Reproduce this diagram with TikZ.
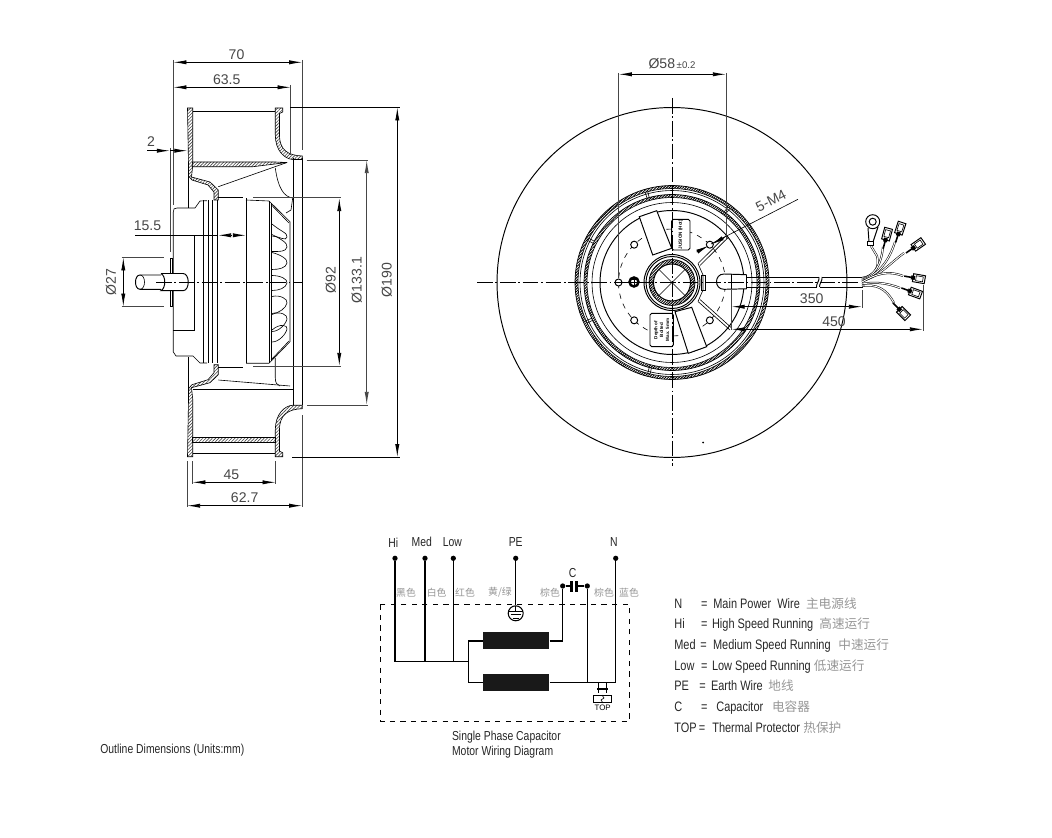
\documentclass[tikz,border=0pt]{standalone}
\usepackage{fontspec}
\setmainfont{Liberation Sans}
\newfontfamily\narrowfont[FakeStretch=0.8]{Liberation Sans}
\newfontfamily\cjkfont{Noto Sans CJK SC}
\usetikzlibrary{arrows.meta, patterns.meta, bending}
\tikzset{>={Latex[length=7.5pt,width=2.4pt]}}
\definecolor{mygray1}{RGB}{150, 150, 150}
\definecolor{mygray2}{RGB}{70, 70, 70}
\begin{document}
\begin{tikzpicture}[
    x = 0.02cm, y = -0.02cm,
    d0/.style = {line width = 0.55pt, draw = black},
    d1/.style = {line width = 0.35pt, draw = black},
    dimline/.style = {<->, line width = 0.5pt, draw = black},
    dimhalf/.style = {->, line width = 0.5pt, draw = black},
    extline/.style = {line width = 0.4pt, draw = mygray2},
    axis/.style = {line width = 0.4pt, draw = black, dash pattern = on 9pt off 1.5pt on 1pt off 1.5pt},
    hatched/.style = {draw = black, line width = 0.35pt, pattern = {Lines[angle=45, distance=1.3pt, line width=0.35pt]}, pattern color = mygray2},
    ringed/.style = {draw = black, line width = 0.4pt, pattern = {Lines[angle=45, distance=1.1pt, line width=0.55pt]}, pattern color = black},
    dimtext/.style = {inner sep = 0pt, text = mygray2, font = \fontsize{8pt}{8pt}\selectfont},
    wire/.style = {line width = 0.85pt, draw = black},
    dot/.style = {circle, fill = black, inner sep = 0pt, minimum size = 3pt},
    coil/.style = {rectangle, fill = black!90, inner sep = 0pt, minimum width = 1.32cm, minimum height = 0.34cm},
    wiretext/.style = {inner sep = 0pt, text = black!85, font = \narrowfont\fontsize{7.4pt}{7.4pt}\selectfont},
    keytext/.style = {inner sep = 0pt, text = black!85, anchor = base west, font = \narrowfont\fontsize{7.8pt}{7.8pt}\selectfont},
    cjktext/.style = {inner sep = 0pt, text = mygray1, font = \cjkfont\fontsize{5.6pt}{5.6pt}\selectfont},
    lead/.style = {double = white, double distance = 0.55pt, line width = 0.3pt},
]
\useasboundingbox (0,0) rectangle (1052,838);

% side view, shrouds (top and mirrored)
\foreach \mys in {1,-1} {
\begin{scope}[shift = {(0,{(1-\mys)/2*564.7})}, yscale = \mys]
    \draw[hatched] (187.5,108) -- (192.7,108) -- (192.7,166) -- (191.5,177) -- (210,182) -- (218.3,190) -- (218.3,200) -- (214,200) -- (214,192) -- (208,185) -- (192,180) -- (188.5,176) -- (188.5,165) -- cycle;
    \draw[hatched] (275.3,108) -- (282.7,108) -- (282.7,112) -- (279.5,113.5) -- (279.5,135) .. controls (279.5,150) and (288,155.5) .. (302.3,156) -- (302.3,159.5) -- (293,159.5) .. controls (284,159) and (275.3,150) .. (275.3,135) -- cycle;
    \draw[d1] (188,176) -- (188,208);
    \draw[d1] (192.7,111.7) -- (275.3,111.7);
\end{scope}
}
\draw[hatched] (192.5,162) -- (275,162) -- (287,162.5) -- (253,166.7) -- (192,166.7) -- cycle;
\draw[d1] (287,162.5) -- (218.3,186.7);
\draw[d1] (275.3,168) .. controls (278,188) and (284,197) .. (292.7,198) -- (291,210) -- (286,213);
\draw[hatched] (192,437.3) rectangle (275.3,442.7);
\draw[d1] (218.3,380) -- (290,386);
\draw[d1] (193,389.3) -- (293,389.3);
\draw[d1] (275.3,358) -- (275.3,378) .. controls (275.3,383) and (277,385) .. (280,386);
\draw[d1] (293,158) -- (293,405);

% side view, motor
\draw[d1] (170,258.3) rectangle (172.7,306.7);
\draw[d1] (173.3,212) .. controls (173.3,209) and (174,208) .. (177,208) -- (195,208) -- (200,201) -- (207,200.7);
\draw[d1] (173.3,212) -- (173.3,352) -- (176,356) -- (193,356) -- (200,363) -- (207,363);
\draw[d1] (173.3,330) -- (194,330) -- (194,235);
\foreach \myx in {203.3,208.3,212.7,217.7} {
    \draw[d1] (\myx,200) -- (\myx,363);
}
\draw[d1] (246,198.3) -- (246,363.3);
\draw[d0] (218,197.5) -- (243,197.5);
\draw[d0] (218,367) -- (243,367);
\draw[d1] (246,200) -- (269,201) -- (290,221.7) -- (290,341.7) -- (269,363.3) -- (246,363.3);
\draw[d1] (269,201) -- (269,363.3);
\draw[d1] (271.7,203) -- (271.7,361);
\draw[d1] (271,204.5) -- (289,223);
\draw[d1] (271,360) -- (289,341);
\foreach \myc/\myh/\mys in {283/7.5/0, 261/8.5/2, 243/8.5/4, 230/6/7, 305/8.5/-2, 323/8.5/-4, 336/6/-7} {
    \draw[d1] (272,\myc-\myh) .. controls (280,\myc-\myh+\mys) and (288,\myc+\mys-4) .. (287,\myc+\mys) .. controls (286,\myc+\mys+5) and (279,\myc+\myh) .. (272,\myc+\myh);
}

% side view, shaft
\draw[d0, fill = white] (161,275) -- (140,275) .. controls (134,275) and (134,289.3) .. (140,289.3) -- (161,289.3);
\draw[d1] (140,275) .. controls (146,275) and (146,289.3) .. (140,289.3);
\draw[d0, fill = white] (161,273.5) -- (183,273.5) .. controls (190,273.5) and (190,290.7) .. (183,290.7) -- (161,290.7) .. controls (166,288) and (166,276) .. (161,273.5);
\draw[axis] (156,282.5) -- (302.3,282.5);

% side view, dimensions
\draw[extline] (173.3,60) -- (173.3,205);
\draw[extline] (302.3,60) -- (302.3,150);
\draw[d1] (302.3,158) -- (302.3,405);
\draw[extline] (302.3,415) -- (302.3,507);
\draw[extline] (290.7,85) -- (290.7,155);
\draw[dimline] (173.3,62.3) -- node[dimtext, above = 1.5pt, pos = 0.49] (dimSeventy) {70} (302.3,62.3);
\draw[dimline] (173.3,87.3) -- node[dimtext, above = 1.5pt, pos = 0.455] (dimSixtyThree) {63.5} (290.7,87.3);
\draw[extline] (170,148) -- (170,252);
\draw[d1] (147,150.7) -- (157,150.7);
\draw[dimhalf] (157,150.7) -- (170,150.7);
\draw[dimhalf] (170,150.7) -- (187.5,150.7);
\node[dimtext] (dimTwo) at (151,141.5) {2};
\draw[d0] (135,235.3) -- (218,235.3);
\draw[dimhalf] (232,235.3) -- (218,235.3);
\draw[dimhalf] (233,235.3) -- (246,235.3);
\node[dimtext] (dimFifteen) at (147.5,225.5) {15.5};
\draw[extline] (121.7,257.3) -- (164,257.3);
\draw[extline] (121.7,306.7) -- (164,306.7);
\draw[dimline] (123.3,257.3) -- (123.3,306.7);
\node[dimtext, rotate = 90] (dimShaft) at (111,282) {Ø27};
\draw[extline] (253,197.7) -- (340.7,197.7);
\draw[extline] (253,366) -- (340.7,366);
\draw[dimline] (339.3,198) -- (339.3,366);
\node[dimtext, rotate = 90] (dimNinetyTwo) at (330.7,280) {Ø92};
\draw[extline] (306.7,160) -- (368,160);
\draw[extline] (307,405) -- (368,405);
\draw[dimline, draw = mygray2] (366.7,160) -- (366.7,405);
\node[dimtext, rotate = 90] (dimInlet) at (356.7,280) {Ø133.1};
\draw[d0] (290,107.3) -- (400,107.3);
\draw[d0] (292,457.3) -- (400,457.3);
\draw[dimline] (397.3,107.3) -- (397.3,457.3);
\node[dimtext, rotate = 90] (dimOuter) at (386.7,280) {Ø190};
\draw[extline] (192.3,461) -- (192.3,484);
\draw[extline] (275.7,461) -- (275.7,484);
\draw[extline] (187,461) -- (187,507);
\draw[dimline] (192.3,482.3) -- node[dimtext, above = 1.5pt, pos = 0.47] (dimFortyFive) {45} (275.7,482.3);
\draw[dimline] (187,505.7) -- node[dimtext, above = 1.5pt] (dimSixtyTwo) {62.7} (302.3,505.7);

% front view, discs
\coordinate (fc) at (672,282.5);
\draw[d0] (fc) circle [radius = 3.5cm];
\draw[ringed] (fc) circle [radius = 1.94cm];
\draw[d1, fill = white] (fc) circle [radius = 1.88cm];
\draw[d1] (fc) circle [radius = 1.84cm];
\draw[ringed] (fc) circle [radius = 1.76cm];
\draw[d1, fill = white] (fc) circle [radius = 1.70cm];
\draw[d1] (fc) circle [radius = 1.60cm];
\draw[d0] (fc) circle [radius = 1.44cm];
\foreach \mya in {52,105,152,204,255} {
    \draw[d1] (fc) ++(\mya:1.76cm) -- ++(\mya:0.12cm);
    \draw[d1] (fc) ++(\mya+1.5:1.76cm) -- ++(\mya+1.5:0.12cm);
}
\draw[d1, dashed] (fc) circle [radius = 1.07cm];
\foreach \mya in {45,135,180,225,315} {
    \draw[d0, fill = white] (fc) ++(\mya:1.07cm) circle [radius = 0.07cm];
}

% front view, plate
\draw[d0, fill = white] (639.3,216.7) -- (656.7,210.7) -- (671.7,248.3) -- (652.7,255) -- cycle;
\draw[d0, fill = white] (675,311.7) -- (691.7,307.3) -- (706.7,346.7) -- (688.3,353.3) -- cycle;
\draw[d0, fill = white, rounded corners = 1pt] (671.7,219.3) rectangle (690,250);
\draw[d0, fill = white, rounded corners = 1pt] (650,313.3) rectangle (673.3,346.7);
\node[rotate = 90, inner sep = 0pt, font = \fontsize{2.6pt}{3pt}\selectfont\bfseries] (plateTop) at (680.8,234.6) {JUSION (Hot)};
\node[rotate = 90, inner sep = 0pt, align = center, font = \fontsize{2.6pt}{3.4pt}\selectfont\bfseries] (plateBottom) at (661.6,330) {Depth of\\Bolted\\Max. 5mm};
\draw[d1] (698,263.5) -- (726.7,235);
\draw[d1] (700,265.5) -- (728.7,237);
\draw[d1] (698,301.5) -- (730,330);
\draw[d1] (700,299.5) -- (731.7,328);
\draw[d1] (698,263.5) -- (703,275) -- (703,290) -- (698,301.5);
\draw[d1] (701.7,275) rectangle (705,290);
\draw[d0, fill = white] (fc) circle [radius = 0.56cm];
\draw[d0] (fc) circle [radius = 0.52cm];
\draw[ringed] (fc) circle [radius = 0.46cm];
\draw[d0, fill = white] (fc) circle [radius = 0.37cm];
\foreach \mya in {45,135} {
    \draw[d1] (fc) ++(\mya:0.37cm) -- ++(\mya+180:0.74cm);
}
\draw[line width = 1.4pt] (634,282) circle [radius = 0.09cm];
\draw[d1] (634,277) -- (634,287) (629.5,282) -- (638.5,282) (631,279) -- (637,279) (631,285) -- (637,285);

% front view, cable and leads
\draw[d0, fill = white] (746.7,274.7) -- (724,274) .. controls (714,274) and (714,289.3) .. (724,289.3) -- (746.7,288.8);
\draw[d1] (731.7,274) -- (731.7,289);
\draw[d1] (746.7,274.7) -- (746.7,288.8);
\draw[d0] (746.7,277) -- (819,277) (746.7,287) -- (816.5,287);
\draw[d0] (822,277) -- (862,277) -- (862,287) -- (819.5,287);
\draw[d0] (819,277) .. controls (820,280) and (816,284) .. (816.5,287);
\draw[d0] (822,277) .. controls (823,280) and (819,284) .. (819.5,287);
\draw[axis] (477,282.5) -- (860,282.5);
\draw[axis] (672,98) -- (672,466);
\draw[lead] (862,278) .. controls (874,276) and (880,268) .. (877,256) -- (871,246);
\draw[lead] (862,279) .. controls (874,276) and (881,266) .. (883,247);
\draw[lead] (862,280) .. controls (876,276) and (888,264) .. (895,242);
\draw[lead] (862,281) .. controls (880,276) and (889,264) .. (904,253);
\draw[lead] (862,282) .. controls (876,274) and (888,270) .. (903,276);
\draw[lead] (862,284) .. controls (872,282) and (885,282) .. (900,288);
\draw[lead] (862,286) .. controls (876,284) and (886,288) .. (894,303);
\draw[d0] (872.7,221.7) circle [radius = 0.07cm];
\draw[d0] (872.7,221.7) circle [radius = 0.14cm];
\draw[d0] (868,228) -- (869,242) -- (873,242) -- (878,227);
\draw[d0, fill = white] (867,241) rectangle (873,245);
\foreach \myx/\myy/\mya in {886/238/75, 899/232/72, 915/246.7/35, 915/278/-10, 911.7/291.7/-20, 900.7/310.7/-45} {
\begin{scope}[shift = {(\myx,\myy)}, rotate = \mya]
    \draw[line width = 0.9pt] (-11,0) -- (-3,0);
    \draw[d0, fill = white] (-2,-4) rectangle (10,4);
    \draw[d1] (1,-2.5) rectangle (8,2.5);
    \fill (-4,-2) rectangle (0,2);
\end{scope}
}

% front view, dimensions
\draw[extline] (618.7,73) -- (618.7,278);
\draw[extline] (726,73) -- (726,240);
\draw[dimline] (618.7,74.3) -- (726,74.3);
\node[dimtext, inner sep = 0pt] (dimBolt) at (672,64) {Ø58\fontsize{5.5pt}{5.5pt}\selectfont\,±0.2};
\draw[d1] (798,199.3) -- (711,244);
\draw[dimhalf] (724,237.5) -- (711,244.5);
\draw[dimhalf] (696.7,252) -- (709,245.5);
\node[dimtext, rotate = 27] (dimThread) at (771,201) {5-M4};
\draw[extline] (731.5,290) -- (731.5,330);
\draw[extline] (862,290) -- (862,308);
\draw[extline] (923,285) -- (923,331);
\draw[dimline] (731.5,306.7) -- (862,306.7);
\draw[dimline] (731.5,329.3) -- (923,329.3);
\node[dimtext] (dimThreeFifty) at (811.7,299) {350};
\node[dimtext] (dimFourFifty) at (834,321.7) {450};
\fill (703,442.5) circle [radius = 0.02cm];

% wiring diagram
\draw[d0, dashed] (380.7,604.3) rectangle (629.3,721.7);
\node[dot] (hi) at (395,558.3) {};
\node[dot] (med) at (425,558.3) {};
\node[dot] (low) at (453.3,558.3) {};
\node[dot] (pe) at (515.7,558.3) {};
\node[dot] (n) at (615.7,558.3) {};
\node[dot] (capl) at (562.7,586) {};
\node[dot] (capr) at (587.3,586) {};
\node[coil] (coila) at (516.3,640.8) {};
\node[coil] (coilb) at (516.3,682.7) {};
\node[wiretext] (hilabel) at (393.3,542.3) {Hi};
\node[wiretext] (medlabel) at (421.7,542.3) {Med};
\node[wiretext] (lowlabel) at (452.3,542.3) {Low};
\node[wiretext] (pelabel) at (515.7,542.3) {PE};
\node[wiretext] (nlabel) at (614,542.3) {N};
\node[wiretext] (clabel) at (572.7,573.3) {C};
\coordinate (busa) at (395,661.7);
\coordinate (busb) at (425,661.7);
\coordinate (busc) at (453.3,661.7);
\coordinate (busd) at (468.3,661.7);
\coordinate (coilain) at (468.3,640.8);
\coordinate (coilbin) at (468.3,682.7);
\coordinate (coilaout) at (562.7,640.8);
\coordinate (coilbout) at (587.3,682.7);
\coordinate (nret) at (615.7,682.7);
\coordinate (platea) at (570.7,586);
\coordinate (plateb) at (577.3,586);
\draw[wire] (hi) -- (busa) -- (busd);
\draw[wire] (med) -- (busb);
\draw[wire] (low) -- (busc);
\draw[wire] (coilain) -- (coilbin);
\draw[wire] (coilain) -- (coila);
\draw[wire] (coilbin) -- (coilb);
\draw[wire] (coila) -- (coilaout) -- (capl);
\draw[wire] (coilb) -- (nret) -- (n);
\draw[wire] (coilbout) -- (capr);
\draw[wire] (capl) -- (platea);
\draw[wire] (capr) -- (plateb);
\draw[line width = 1.4pt] (571.5,581) -- (571.5,591.5);
\draw[line width = 1.4pt] (576.5,581) -- (576.5,591.5);
\node[circle, draw = black, line width = 0.6pt, inner sep = 0pt, minimum size = 0.3cm] (earth) at (515.7,613.3) {};
\draw[wire] (pe) -- (earth);
\draw[d0] (515.7,606) -- (515.7,611) (508.5,611) -- (523,611) (510.5,614.5) -- (521,614.5) (512.5,618) -- (519,618);
\foreach \myx in {598.5,606} {
    \draw[d0] (\myx,682.7) -- (\myx,693);
}
\draw[line width = 1.3pt] (597,689) -- (607.5,689);
\node[rectangle, draw = black, line width = 0.4pt, inner sep = 0pt, minimum width = 0.36cm, minimum height = 0.15cm] (topbox) at (602.5,699) {};
\draw[d1] (602,695) -- (604,698) -- (601,700) -- (603,703);
\node[inner sep = 0pt, font = \fontsize{4.5pt}{4.5pt}\selectfont] (toplabel) at (602.7,707.7) {TOP};
\foreach \myx/\myname/\mytext in {406/a/黑色, 436.7/b/白色, 465/c/红色, 500/d/{黄/绿}, 550/e/棕色, 604/f/棕色, 629/g/蓝色} {
    \node[cjktext] (color\myname) at (\myx,592.7) {\mytext};
}
\node[wiretext, anchor = west] (captiona) at (451.7,736.7) {Single Phase Capacitor};
\node[wiretext, anchor = west] (captionb) at (451.7,751.7) {Motor Wiring Diagram};
\node[wiretext, anchor = west] (outline) at (100,750) {Outline Dimensions (Units:mm)};

% legend
\foreach \myy/\myname/\myeq/\mytx/\mytext/\mycx/\mycjk in {
    608/N/700.7/713/Main Power\ \ Wire/805.7/主电源线,
    628.5/Hi/700.7/711.7/High Speed Running/819/高速运行,
    649/Med/700/712.7/Medium Speed Running/838/中速运行,
    670/Low/700.7/711.7/Low Speed Running/813.5/低速运行,
    690.7/PE/699/710.7/Earth Wire/768/地线,
    711/C/700.7/716/Capacitor/771.7/电容器,
    732/TOP/698.5/712/Thermal Protector/803/热保护} {
    \node[keytext] (key\myname) at (674,\myy) {\myname};
    \node[keytext] (eq\myname) at (\myeq,\myy) {=};
    \node[keytext] (text\myname) at (\mytx,\myy) {\mytext};
    \node[keytext, text = mygray1, font = \cjkfont\fontsize{7.2pt}{7.2pt}\selectfont] (cjk\myname) at (\mycx,\myy) {\mycjk};
}
\end{tikzpicture}
\end{document}
